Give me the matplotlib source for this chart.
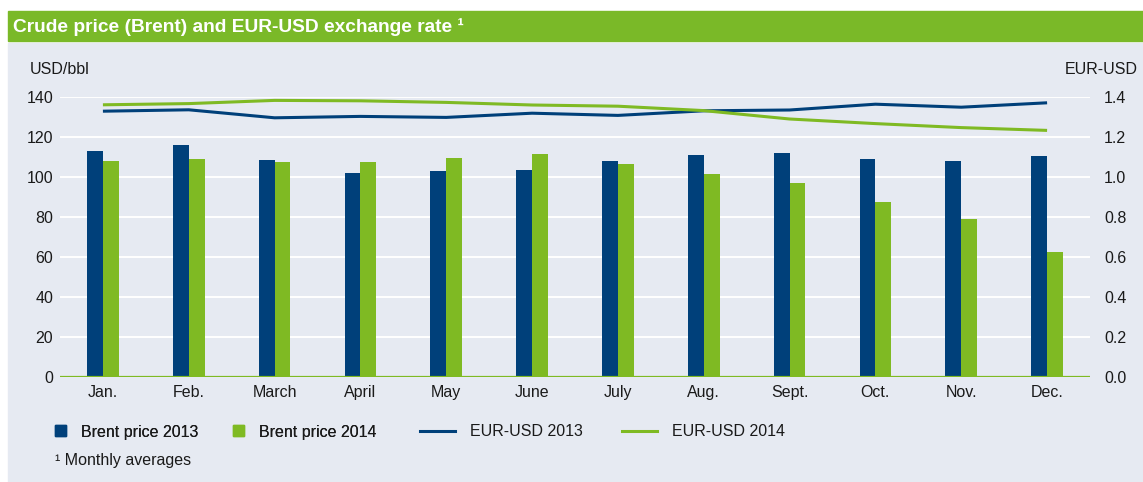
import matplotlib.pyplot as plt
import numpy as np
from matplotlib.patches import Rectangle
from matplotlib.lines import Line2D
from matplotlib.legend_handler import HandlerPatch

months = ["Jan.", "Feb.", "March", "April", "May", "June",
          "July", "Aug.", "Sept.", "Oct.", "Nov.", "Dec."]
brent_2013 = [113, 116, 108.5, 102, 103, 103.5, 108, 111, 112, 109, 108, 110.5]
brent_2014 = [108, 109, 107.5, 107.5, 109.5, 111.5, 106.5, 101.3, 97, 87.5, 79, 62.5]
eurusd_2013 = [1.329, 1.336, 1.296, 1.303, 1.298, 1.319, 1.308, 1.331, 1.335, 1.364, 1.349, 1.371]
eurusd_2014 = [1.361, 1.367, 1.383, 1.381, 1.373, 1.360, 1.354, 1.332, 1.290, 1.267, 1.247, 1.233]

BLUE = "#00407a"
GREEN = "#7fba23"
BG = "#e6eaf2"
TXT = "#1a1a1a"
FS = 11.5


def main():
    plt.rcParams['font.family'] = ['Liberation Sans', 'DejaVu Sans']
    plt.rcParams['font.size'] = FS

    W, H = 1143, 482
    fig = plt.figure(figsize=(W / 100, H / 100), dpi=100, facecolor="white")

    # background panels
    fig.patches.append(Rectangle((8 / W, 0), 1 - 8 / W, 1 - 43 / H,
                                 transform=fig.transFigure, color=BG, zorder=-10))
    fig.patches.append(Rectangle((8 / W, 1 - 41 / H), 1 - 8 / W, 30 / H,
                                 transform=fig.transFigure, color="#7ab928", zorder=-10))
    fig.text(13 / W, 1 - 27 / H, "Crude price (Brent) and EUR-USD exchange rate \u00b9",
             color="white", fontsize=13.8, fontweight="bold", va="center", ha="left")

    ax = fig.add_axes([60 / W, 105 / H, 1030 / W, 280 / H])
    ax.patch.set_alpha(0)
    x = np.arange(len(months))
    bw = 0.185
    ax.bar(x - bw / 2, brent_2013, bw, color=BLUE, zorder=2)
    ax.bar(x + bw / 2, brent_2014, bw, color=GREEN, zorder=2)
    ax.axhline(0, color=GREEN, lw=1.6, zorder=3)
    ax.set_xlim(-0.5, 11.5)
    ax.set_ylim(0, 140)
    ax.set_yticks(range(0, 141, 20))
    ax.yaxis.grid(True, color="white", lw=1.4)
    ax.set_axisbelow(True)
    ax.set_xticks(x)
    ax.set_xticklabels(months)
    ax.tick_params(axis="both", length=0, colors=TXT, labelsize=FS)
    ax.tick_params(axis="y", pad=5)
    ax.tick_params(axis="x", pad=6)
    for s in ax.spines.values():
        s.set_visible(False)

    ax2 = ax.twinx()
    ax2.plot(x, eurusd_2013, color=BLUE, lw=2.2, solid_capstyle="butt", zorder=4)
    ax2.plot(x, eurusd_2014, color=GREEN, lw=2.2, solid_capstyle="butt", zorder=4)
    ax2.set_ylim(0, 1.4)
    ax2.set_yticks(np.arange(0, 1.41, 0.2))
    ax2.set_yticklabels([f"{v:.1f}" for v in np.arange(0, 1.41, 0.2)])
    ax2.tick_params(axis="y", length=0, colors=TXT, labelsize=FS, pad=10)
    for s in ax2.spines.values():
        s.set_visible(False)

    fig.text(30 / W, 1 - 70 / H, "USD/bbl", color=TXT, va="center", ha="left")
    fig.text(1138 / W, 1 - 70 / H, "EUR-USD", color=TXT, va="center", ha="right")

    def square(legend, orig_handle, xdescent, ydescent, width, height, fontsize):
        s = 11 * 72 / 100
        return Rectangle((width - s - xdescent, -ydescent + (height - s) / 2), s, s)

    bar_handles = [Rectangle((0, 0), 1, 1, color=BLUE), Rectangle((0, 0), 1, 1, color=GREEN)]
    leg1 = fig.legend(bar_handles, ["Brent price 2013", "Brent price 2014"],
                      loc="center left", bbox_to_anchor=(55 / W, 1 - 432 / H),
                      ncol=2, frameon=False, borderpad=0, borderaxespad=0,
                      handlelength=0.7, handletextpad=0.9, columnspacing=2.2,
                      handler_map={Rectangle: HandlerPatch(patch_func=square)},
                      labelcolor=TXT)
    line_handles = [Line2D([], [], color=BLUE, lw=2.2), Line2D([], [], color=GREEN, lw=2.2)]
    fig.legend(line_handles, ["EUR-USD 2013", "EUR-USD 2014"],
               loc="center left", bbox_to_anchor=(420 / W, 1 - 432 / H),
               ncol=2, frameon=False, borderpad=0, borderaxespad=0,
               handlelength=2.2, handletextpad=0.9, columnspacing=2.5,
               labelcolor=TXT)
    fig.add_artist(leg1)

    fig.text(55 / W, 1 - 461 / H, "\u00b9 Monthly averages", color=TXT, va="center", ha="left")

    fig.savefig("out.png", dpi=100, facecolor="white")


if __name__ == "__main__":
    main()
